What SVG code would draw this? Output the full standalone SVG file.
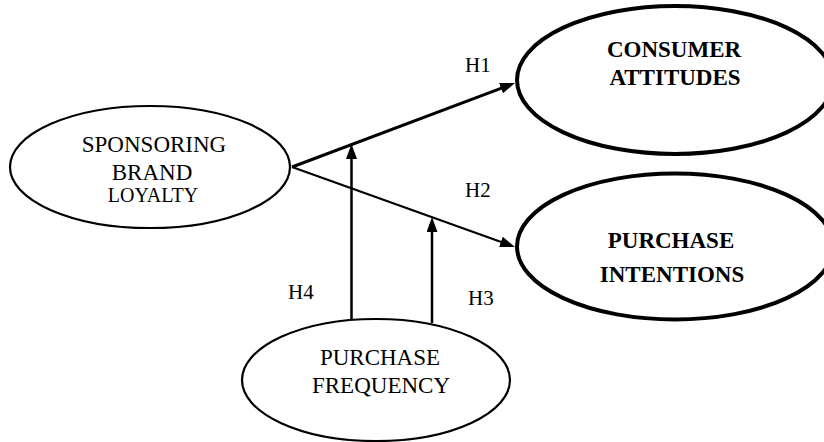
<svg xmlns="http://www.w3.org/2000/svg" width="824" height="442" viewBox="0 0 824 442">
<style>
.thin{fill:#fff;stroke:#000;stroke-width:2.2}
.thick{fill:#fff;stroke:#000;stroke-width:4}
text{font-family:'Liberation Serif','Times New Roman','DejaVu Serif',serif;fill:#000}
.t{font-size:23px;text-anchor:middle}
.b{font-weight:bold}
.h{font-size:21px}
.c{stroke:#000;fill:none}
</style>
<defs>
<marker id="ah" viewBox="0 0 15 11" markerUnits="userSpaceOnUse" markerWidth="15" markerHeight="11" refX="7" refY="5.5" orient="auto">
<path d="M0,0 L15,5.5 L0,11 z" fill="#000"/>
</marker>
</defs>
<rect width="824" height="442" fill="#fff"/>
<g id="sponsoring" font-family="Liberation Serif, serif">
<ellipse class="thin" cx="150" cy="167" rx="140" ry="61"/>
<text class="t" x="154" y="152">SPONSORING</text>
<text class="t" x="152" y="180">BRAND</text>
<text class="t" x="153" y="202" style="font-size:20px">LOYALTY</text>
</g>
<g id="consumer">
<ellipse class="thick" cx="675" cy="80" rx="158" ry="74"/>
<text class="t b" x="674" y="57">CONSUMER</text>
<text class="t b" x="675" y="85">ATTITUDES</text>
</g>
<g id="intentions">
<ellipse class="thick" cx="675" cy="246.5" rx="158" ry="73"/>
<text class="t b" x="671" y="248">PURCHASE</text>
<text class="t b" x="672" y="282">INTENTIONS</text>
</g>
<g id="frequency">
<ellipse class="thin" cx="376" cy="380" rx="134" ry="61"/>
<text class="t" x="380" y="365">PURCHASE</text>
<text class="t" x="381" y="393">FREQUENCY</text>
</g>
<g id="connectors">
<line class="c" x1="292" y1="167" x2="507.5" y2="85.8" stroke-width="3" marker-end="url(#ah)"/>
<line class="c" x1="292" y1="167" x2="507.5" y2="244.3" stroke-width="2.2" marker-end="url(#ah)"/>
<line class="c" x1="351.5" y1="320" x2="351.5" y2="152" stroke-width="2.5" marker-end="url(#ah)"/>
<line class="c" x1="432" y1="323" x2="432" y2="225" stroke-width="2.5" marker-end="url(#ah)"/>
</g>
<g id="labels">
<text class="h" x="465" y="72">H1</text>
<text class="h" x="465" y="197">H2</text>
<text class="h" x="288" y="299">H4</text>
<text class="h" x="468" y="305">H3</text>
</g>
</svg>
